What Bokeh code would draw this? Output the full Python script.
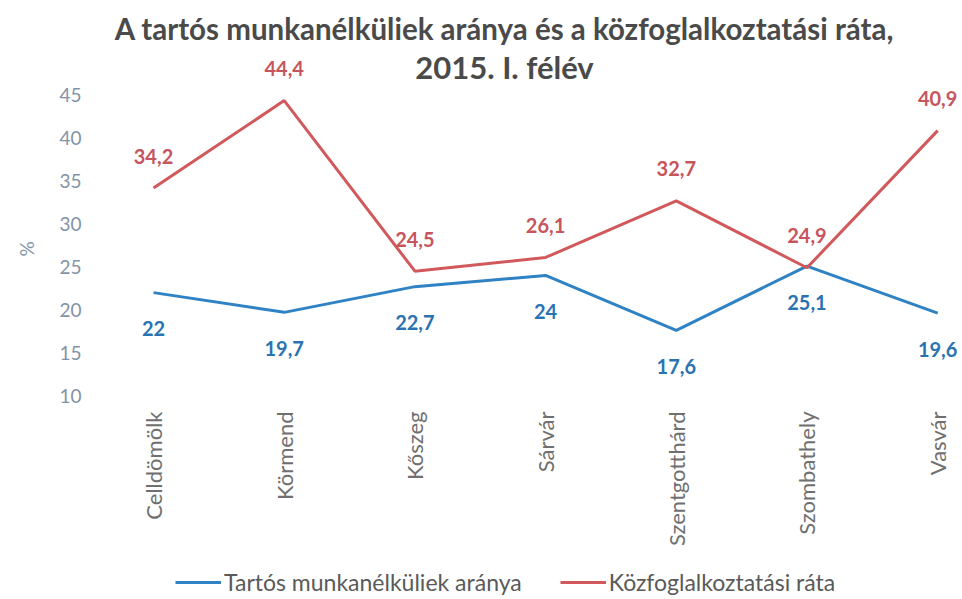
import math
from bokeh.plotting import figure
from bokeh.layouts import column
from bokeh.models import (ColumnDataSource, Range1d, FixedTicker, LabelSet, Label,
                          Legend, LegendItem, LinearAxis)
from bokeh.core.properties import value
from bokeh.embed import file_html
from bokeh.resources import INLINE

categories = ["Celldömölk", "Körmend", "Kőszeg", "Sárvár",
              "Szentgotthárd", "Szombathely", "Vasvár"]
tartos = [22, 19.7, 22.7, 24, 17.6, 25.1, 19.6]
kozfog = [34.2, 44.4, 24.5, 26.1, 32.7, 24.9, 40.9]
y_ticks = [10, 15, 20, 25, 30, 35, 40, 45]
series_names = ["Tartós munkanélküliek aránya", "Közfoglalkoztatási ráta"]
title_lines = ["A tartós munkanélküliek aránya és a közfoglalkoztatási ráta,",
               "2015. I. félév"]
y_label = "%"

BLUE = "#2f82c3"
RED = "#d1595c"
BLUE_TXT = "#2a73b0"
RED_TXT = "#c6555d"
AXIS_TXT = "#8393a6"
FONT = "Lato"

xs = list(range(len(categories)))
fmt = lambda v: f"{v:g}".replace(".", ",")
src_b = ColumnDataSource(dict(x=xs, y=tartos, lab=[fmt(v) for v in tartos]))
src_r = ColumnDataSource(dict(x=xs, y=kozfog, lab=[fmt(v) for v in kozfog]))

p = figure(frame_width=864, frame_height=395, title=None,
           x_range=Range1d(-0.421, 6.19), y_range=Range1d(10, 56.08),
           output_backend="svg", toolbar_location=None,
           min_border_left=98, min_border_right=0,
           min_border_top=0, min_border_bottom=168)
p.outline_line_color = None
p.background_fill_color = "white"
p.border_fill_color = "white"
p.grid.visible = False

rb = p.line("x", "y", source=src_b, line_color=BLUE, line_width=3)
rr = p.line("x", "y", source=src_r, line_color=RED, line_width=3)

p.add_layout(LabelSet(x="x", y="y", text="lab", source=src_r, y_offset=32,
                      text_align="center", text_baseline="middle",
                      text_color=RED_TXT, text_font=value(FONT),
                      text_font_style="bold", text_font_size="20px"))
p.add_layout(LabelSet(x="x", y="y", text="lab", source=src_b, y_offset=-36,
                      text_align="center", text_baseline="middle",
                      text_color=BLUE_TXT, text_font=value(FONT),
                      text_font_style="bold", text_font_size="20px"))

# title (two lines, overlapping the top of the plot like in the original)
for txt, sy, fs in zip(title_lines, (367, 329), ("29.5px", "31px")):
    p.add_layout(Label(x=406, y=sy, x_units="screen", y_units="screen",
                       text=txt, text_align="center", text_baseline="middle",
                       text_font=FONT, text_font_size=fs,
                       text_font_style="bold", text_color="#4a4a4a"))

# axes
yax = p.yaxis[0]
yax.ticker = FixedTicker(ticks=y_ticks)
yax.axis_line_color = None
yax.major_tick_line_color = None
yax.minor_tick_line_color = None
yax.major_label_text_font = FONT
yax.major_label_text_font_size = "19px"
yax.major_label_text_color = AXIS_TXT
yax.major_label_standoff = 11

# "%" unit label, centred on the 10-45 band
unit_ax = LinearAxis(ticker=FixedTicker(ticks=[28]),
                     major_label_overrides={28: y_label},
                     major_label_orientation=math.pi / 2,
                     axis_line_color=None, major_tick_line_color=None,
                     minor_tick_line_color=None, major_label_standoff=24,
                     major_label_text_font=FONT, major_label_text_font_size="19px",
                     major_label_text_color=AXIS_TXT)
p.add_layout(unit_ax, "left")

xax = p.xaxis[0]
xax.ticker = FixedTicker(ticks=xs)
xax.major_label_overrides = {i: c for i, c in enumerate(categories)}
xax.major_label_orientation = math.pi / 2
xax.axis_line_color = None
xax.major_tick_line_color = None
xax.minor_tick_line_color = None
xax.major_label_text_font = FONT
xax.major_label_text_font_size = "22px"
xax.major_label_text_color = "#6f6f6f"
xax.major_label_standoff = 10

# legend strip under the chart (same series, drawn out of view; only the key shows)
lg = figure(width=962, height=36, x_axis_location=None, y_axis_location=None,
            output_backend="svg", toolbar_location=None, min_border=0,
            x_range=Range1d(100, 101), y_range=Range1d(100, 101))
lg.outline_line_color = None
lg.grid.visible = False
lb = lg.line("x", "y", source=src_b, line_color=BLUE, line_width=3)
lr = lg.line("x", "y", source=src_r, line_color=RED, line_width=3)
legend = Legend(items=[LegendItem(label=series_names[0], renderers=[lb]),
                       LegendItem(label=series_names[1], renderers=[lr])],
                orientation="horizontal", location=(77, 3),
                label_text_font=FONT, label_text_font_size="23px",
                label_text_color="#5a5a5a", glyph_width=46, glyph_height=22,
                label_standoff=3, spacing=38, padding=0, margin=0,
                border_line_color=None, background_fill_alpha=0)
lg.add_layout(legend, "center")

layout = column(p, lg, spacing=0)
open("out.html", "w").write(file_html(layout, INLINE))
